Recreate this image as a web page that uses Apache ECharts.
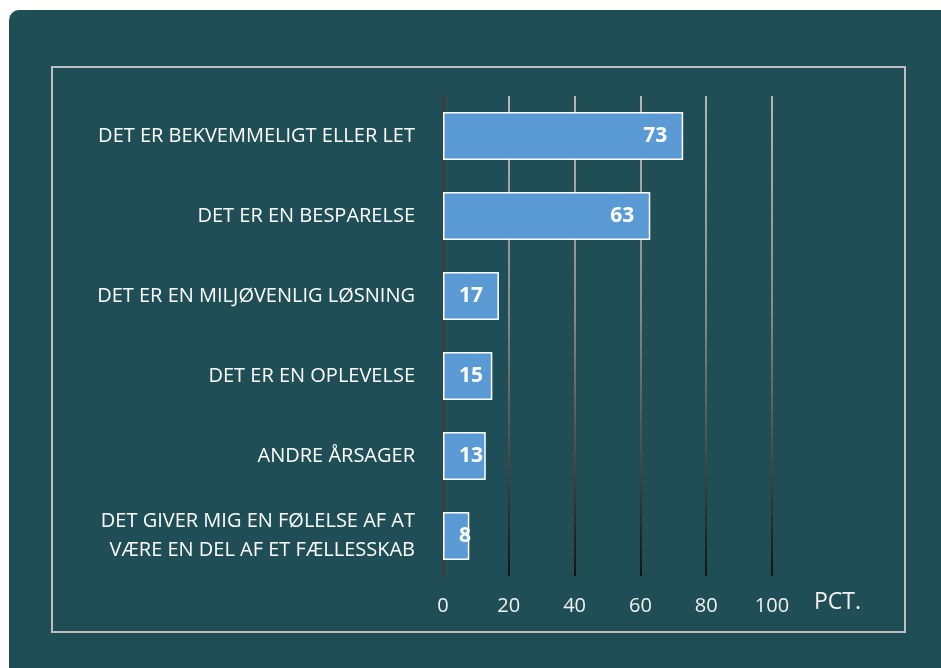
<!DOCTYPE html>
<html lang="da">
<head>
<meta charset="UTF-8">
<title>Årsager</title>
<script src="https://cdn.jsdelivr.net/npm/echarts@6.0.0/dist/echarts.min.js"></script>
<style>
    html, body { margin: 0; padding: 0; background: #ffffff; }
    #chart { width: 941px; height: 668px; }
</style>
</head>
<body>
<div id="chart"></div>
<script>
    // data
    var categories = [
        'DET ER BEKVEMMELIGT ELLER LET',
        'DET ER EN BESPARELSE',
        'DET ER EN MILJØVENLIG LØSNING',
        'DET ER EN OPLEVELSE',
        'ANDRE ÅRSAGER',
        'DET GIVER MIG EN FØLELSE AF AT\nVÆRE EN DEL AF ET FÆLLESSKAB'
    ];
    var values = [73, 63, 17, 15, 13, 8];
    var xTicks = [0, 20, 40, 60, 80, 100];
    var unitLabel = 'PCT.';

    var font = '"Open Sans", "DejaVu Sans", sans-serif';
    var teal = '#1f4e56';

    // short bars: label sits at a fixed offset from the axis (like the original)
    var barData = values.map(function (v) {
        return { value: v, label: { position: v < 20 ? 'insideLeft' : 'insideRight' } };
    });

    var chart = echarts.init(document.getElementById('chart'));
    var option = {
        backgroundColor: '#ffffff',
        animation: false,
        graphic: [
            {
                type: 'rect', z: -10,
                shape: { x: 9, y: 10, width: 950, height: 680, r: 10 },
                style: { fill: teal }
            },
            {
                type: 'rect', z: -9,
                shape: { x: 52, y: 67, width: 853, height: 565 },
                style: { fill: 'none', stroke: '#bfbfbf', lineWidth: 2 }
            },
            {
                type: 'text', left: 814, top: 591,
                style: { text: unitLabel, fill: '#f2f2f2', font: '23px ' + font }
            }
        ],
        grid: { left: 443, right: 169, top: 96, bottom: 92, containLabel: false },
        xAxis: {
            type: 'value',
            min: xTicks[0],
            max: xTicks[xTicks.length - 1],
            interval: 20,
            axisLine: { show: false },
            axisTick: { show: false },
            axisLabel: { color: '#f2f2f2', fontSize: 20, fontFamily: font, margin: 20 },
            splitLine: {
                show: true,
                lineStyle: {
                    width: 2,
                    color: new echarts.graphic.LinearGradient(0, 96, 0, 576, [
                        { offset: 0, color: '#b5b5b5' },
                        { offset: 0.45, color: '#8a8a8a' },
                        { offset: 1, color: '#141414' }
                    ], true)
                }
            }
        },
        yAxis: {
            type: 'category',
            inverse: true,
            data: categories,
            axisLine: { show: true, lineStyle: { color: '#3d3d3d', width: 3 } },
            axisTick: { show: false },
            axisLabel: {
                color: '#ffffff', fontSize: 20, fontFamily: font,
                margin: 28, lineHeight: 29, align: 'right'
            }
        },
        series: [{
            type: 'bar',
            data: barData,
            barWidth: '60%',
            z: 3,
            itemStyle: { color: '#5b9bd5', borderColor: '#ffffff', borderWidth: 1.5 },
            label: {
                show: true,
                position: 'insideRight',
                distance: 16,
                color: '#ffffff',
                fontSize: 21,
                fontWeight: 'bold',
                fontFamily: font
            }
        }]
    };
    chart.setOption(option);
</script>
</body>
</html>
